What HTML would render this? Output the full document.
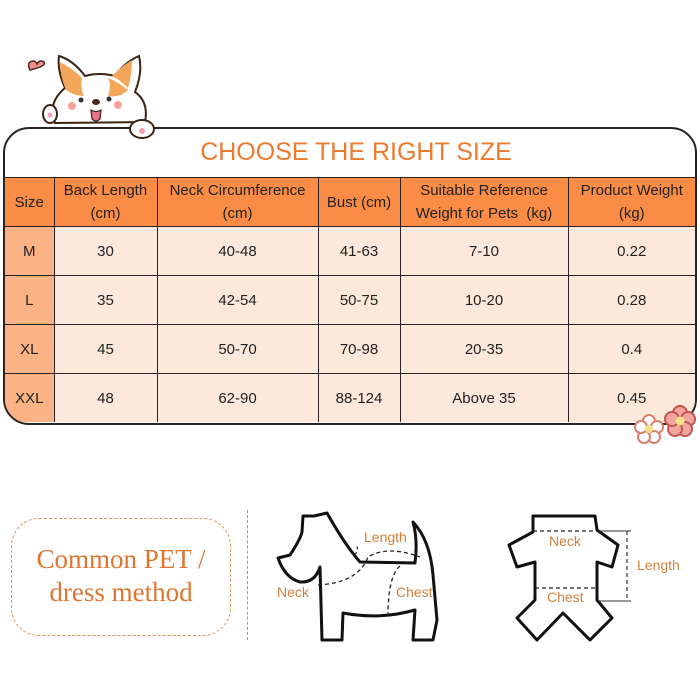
<!DOCTYPE html>
<html><head><style>
body{margin:0;width:700px;height:700px;background:#fff;position:relative;overflow:hidden;font-family:"Liberation Sans",sans-serif;}
.frame{position:absolute;left:3px;top:127px;width:690px;height:294px;border:2px solid #2a2222;border-radius:26px;overflow:hidden;background:#fff;}
.title{position:absolute;left:6px;width:690px;top:9px;text-align:center;color:#ee7a2e;font-size:25px;}
table{position:absolute;left:0;top:48px;border-collapse:collapse;font-size:15px;color:#222;}
td{border:1.5px solid #2a2222;text-align:center;padding:0;line-height:23px;}
tr.h td{background:#fa8c45;height:48px;}
tr.r td{background:#fde8dc;height:48px;}
tr.r td:first-child{background:#fbb285;}
table tr td:first-child{border-left:none}
table tr td:last-child{border-right:none}
table tr:last-child td{border-bottom:none}
.box{position:absolute;left:11px;top:518px;width:220px;height:118px;border:1.5px dashed #e0925a;border-radius:28px;text-align:center;color:#e07530;font-family:"Liberation Serif",serif;font-size:27px;line-height:33px;box-sizing:border-box;padding-top:24px;}
.vl{position:absolute;left:247px;top:510px;height:130px;border-left:1px dashed #999;}
.lab{position:absolute;color:#d3803c;font-size:14px;}
</style></head><body>
<div class="frame">
<div class="title">CHOOSE THE RIGHT SIZE</div>
<table>
<colgroup><col style="width:49px"><col style="width:103px"><col style="width:161px"><col style="width:82px"><col style="width:168px"><col style="width:127px"></colgroup>
<tr class="h"><td>Size</td><td>Back Length<br>(cm)</td><td>Neck Circumference<br>(cm)</td><td>Bust (cm)</td><td>Suitable Reference<br>Weight for Pets&nbsp; (kg)</td><td>Product Weight<br>(kg)</td></tr>
<tr class="r"><td>M</td><td>30</td><td>40-48</td><td>41-63</td><td>7-10</td><td>0.22</td></tr>
<tr class="r"><td>L</td><td>35</td><td>42-54</td><td>50-75</td><td>10-20</td><td>0.28</td></tr>
<tr class="r"><td>XL</td><td>45</td><td>50-70</td><td>70-98</td><td>20-35</td><td>0.4</td></tr>
<tr class="r"><td>XXL</td><td>48</td><td>62-90</td><td>88-124</td><td>Above 35</td><td>0.45</td></tr>
</table>
</div>
<svg style="position:absolute;left:0;top:0" width="700" height="700">
<path d="M30 70 q-4-8 3-9 q3 0 4 3 q3-5 7-2 q3 4-14 8z" fill="#f08f90" stroke="#4a2a1a" stroke-width="1.5"/>
<path d="M55 123 q-8-20 10-35 q-8-18-6-32 q14 4 26 20 q14-4 30 0 q10-14 24-20 q4 16-4 36 q14 10 10 30 z" fill="#fff" stroke="#3a2416" stroke-width="2"/>
<path d="M60 62 q12 6 22 16 q-12 4-16 12 q-6-14-6-28z" fill="#f3a65a"/>
<path d="M112 76 q10-10 20-16 q0 14-4 28 q-8-8-16-12z" fill="#f3a65a"/>
<path d="M66 90 q6-10 16-12 q-2 10 2 18 q-10 0-18-6z M108 78 q10 4 20 12 q-8 8-20 6 q4-10 0-18z" fill="#f3a65a"/>
<circle cx="81" cy="100" r="2.5" fill="#333"/><circle cx="109" cy="99" r="2.5" fill="#333"/>
<ellipse cx="96" cy="102" rx="4" ry="3" fill="#4a2a1a"/>
<path d="M91 110 q5 3 10 0 l-1 9 q-4 4-8 0z" fill="#e8748a" stroke="#3a2416" stroke-width="1.2"/>
<circle cx="72" cy="106" r="4" fill="#f7a2a2"/><circle cx="118" cy="105" r="4" fill="#f7a2a2"/>
<ellipse cx="50" cy="114" rx="7" ry="9" fill="#fff" stroke="#3a2416" stroke-width="2"/>
<ellipse cx="142" cy="129" rx="12" ry="9" fill="#fff" stroke="#3a2416" stroke-width="2"/>
<circle cx="142" cy="131" r="3" fill="#f4a0b0"/><circle cx="50" cy="115" r="2.5" fill="#f4a0b0"/>
<g transform="translate(649,429)" fill="#fff" stroke="#d9806f" stroke-width="2"><circle cx="0" cy="-8" r="6"/><circle cx="8" cy="-2" r="6"/><circle cx="5" cy="8" r="6"/><circle cx="-5" cy="8" r="6"/><circle cx="-8" cy="-2" r="6"/><circle r="4" fill="#f6e08a" stroke="none"/></g>
<g transform="translate(680,421)" fill="#f2a6a0" stroke="#c2554f" stroke-width="2"><circle cx="0" cy="-8" r="7"/><circle cx="8" cy="-2" r="7"/><circle cx="5" cy="8" r="7"/><circle cx="-5" cy="8" r="7"/><circle cx="-8" cy="-2" r="7"/><circle r="4.5" fill="#f6e08a" stroke="none"/></g>
<path d="M303 516 L314 516 L327 513 Q345 545 360 562 L415 563 Q418 540 413 522 Q430 540 433 575 L437 620 L433 640 L413 640 L415 610 Q380 620 343 613 L342 640 L322 640 L320 567 Q315 583 300 582 Q285 578 278 558 L290 555 Q300 540 302 532 Z" fill="none" stroke="#111" stroke-width="3" stroke-linejoin="round"/>
<path d="M318 585 q40 -2 50-28 q20-12 52 0" fill="none" stroke="#222" stroke-width="1.3" stroke-dasharray="4,3"/>
<path d="M400 566 q-12 10-12 50" fill="none" stroke="#222" stroke-width="1.3" stroke-dasharray="4,3"/>
<path d="M355 555 q5-8 0-10" fill="none" stroke="#222" stroke-width="1.2" stroke-dasharray="3,3"/>
<path d="M533 516 L595 516 L597 530 L618 545 L612 567 L597 562 L597 600 L612 618 L590 640 L563 613 L537 640 L517 618 L535 600 L535 562 L517 567 L509 545 L533 532 Z" fill="none" stroke="#111" stroke-width="3" stroke-linejoin="round"/>
<path d="M533 531 h64 M535 588 h60" stroke="#222" stroke-width="1.3" stroke-dasharray="4,3"/>
<path d="M598 531 h33 M598 601 h33" stroke="#333" stroke-width="1"/>
<path d="M627 531 v70" stroke="#333" stroke-width="1.2" stroke-dasharray="4,3"/>
</svg>
<div class="lab" style="left:364px;top:529px">Length</div>
<div class="lab" style="left:277px;top:584px">Neck</div>
<div class="lab" style="left:396px;top:584px">Chest</div>
<div class="lab" style="left:549px;top:533px">Neck</div>
<div class="lab" style="left:547px;top:589px">Chest</div>
<div class="lab" style="left:637px;top:557px">Length</div>
<div class="box">Common PET /<br>dress method</div>
<div class="vl"></div>
</body></html>
